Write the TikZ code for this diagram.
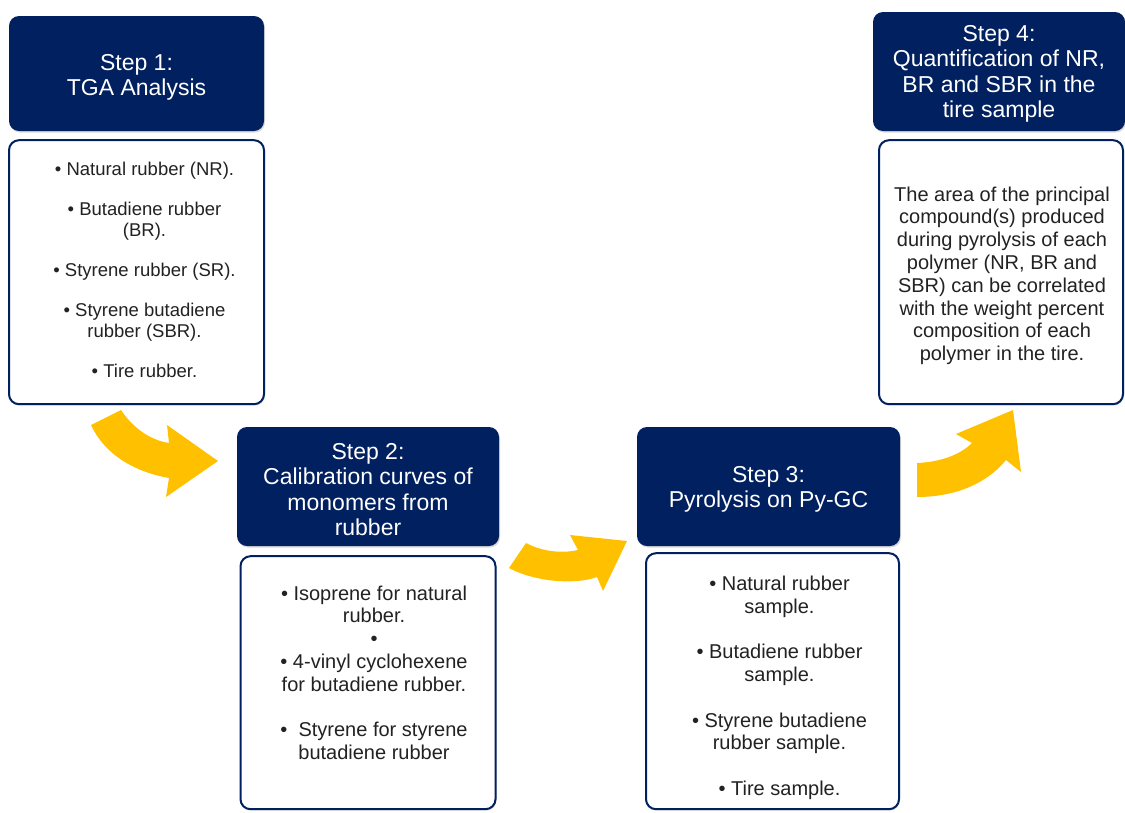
\documentclass[tikz,border=0pt]{standalone}
\usepackage{fontspec}
\setmainfont{Liberation Sans}
\usetikzlibrary{positioning, shadows}
\definecolor{navy}{RGB}{0,32,96}
\definecolor{arrowyellow}{RGB}{255,192,0}
\definecolor{bodytext}{RGB}{34,34,34}
\tikzset{
header/.style={fill=navy, rounded corners=10pt, inner sep=0pt,
  drop shadow={shadow xshift=1pt, shadow yshift=-1.5pt, opacity=0.3}}, % dark title box of each step
header text/.style={text=white, align=center, inner sep=0pt, font=\fontsize{23}{25.3}\selectfont}, % title of a step
panel/.style={draw=navy, line width=2pt, fill=white, rounded corners=10pt, inner sep=0pt,
  drop shadow={shadow xshift=1pt, shadow yshift=-1.5pt, opacity=0.2}}, % white box under a title
panel text/.style={align=center, text=bodytext, inner sep=0pt, font=\fontsize{20}{22.8}\selectfont}, % text inside a white box
bend arrow/.style={fill=arrowyellow, draw=none}, % yellow curved block arrows
}

\begin{document}
\begin{tikzpicture}[x=1pt, y=-1pt]
    \useasboundingbox (0,0) rectangle (1125,812);

    \node[header, minimum width=255pt, minimum height=115pt] (s1h) at (136.5,73.5) {};
    \node[panel, minimum width=255pt, minimum height=264pt, below=8pt of s1h] (s1b) {};
    \node[header, minimum width=262pt, minimum height=119pt] (s2h) at (368,486.5) {};
    \node[panel, minimum width=255pt, minimum height=253pt, below=9pt of s2h] (s2b) {};
    \node[header, minimum width=263pt, minimum height=119pt] (s3h) at (768.5,486.5) {};
    \node[panel, minimum width=253pt, minimum height=256pt, below=6pt of s3h, xshift=4pt] (s3b) {};
    \node[header, minimum width=252pt, minimum height=119pt] (s4h) at (999,71.5) {};
    \node[panel, minimum width=244pt, minimum height=264pt, below=8pt of s4h, xshift=2pt] (s4b) {};

    \node[header text] (s1l) at ([yshift=-4pt] s1h.center) {Step 1:\\ TGA Analysis};
    \node[header text] (s2l) at ([yshift=-3pt] s2h.center) {Step 2:\\ Calibration curves of\\ monomers from\\ rubber};
    \node[header text] (s3l) at ([yshift=-3pt] s3h.center) {Step 3:\\ Pyrolysis on Py-GC};
    \node[header text] (s4l) at ([yshift=-2.5pt] s4h.center) {Step 4:\\ Quantification of NR,\\ BR and SBR in the\\ tire sample};

    \node[panel text, font=\fontsize{18.5}{21}\selectfont] (s1t) at ([xshift=8pt, yshift=2pt] s1b.center)
      {\textbullet\ Natural rubber (NR).\\[19pt] \textbullet\ Butadiene rubber\\ (BR).\\[19pt]
       \textbullet\ Styrene rubber (SR).\\[19pt] \textbullet\ Styrene butadiene\\ rubber (SBR).\\[19pt]
       \textbullet\ Tire rubber.};
    \node[panel text] (s2t) at ([xshift=6pt, yshift=10pt] s2b.center)
      {\textbullet\ Isoprene for natural\\ rubber.\\ \textbullet\\ \textbullet\ 4-vinyl cyclohexene\\
       for butadiene rubber.\\[22.8pt] \textbullet\ \ Styrene for styrene\\ butadiene rubber};
    \node[panel text] (s3t) at ([xshift=7pt, yshift=-6.5pt] s3b.center)
      {\textbullet\ Natural rubber\\ sample.\\[22.8pt] \textbullet\ Butadiene rubber\\ sample.\\[22.8pt]
       \textbullet\ Styrene butadiene\\ rubber sample.\\[22.8pt] \textbullet\ Tire sample.};
    \node[panel text] (s4t) at ([xshift=1pt, yshift=-3.5pt] s4b.center)
      {The area of the principal\\ compound(s) produced\\ during pyrolysis of each\\ polymer (NR, BR and\\
       SBR) can be correlated\\ with the weight percent\\ composition of each\\ polymer in the tire.};

    \fill[bend arrow] (91,425) -- (121,410) .. controls (133,428) and (150,440) .. (169,443)
      -- (167,425) -- (218,461) -- (166,497) -- (169,478) .. controls (135,472) and (105,455) .. cycle;
    \fill[bend arrow] (509,568) -- (526,543) .. controls (545,553) and (565,553) .. (578,550)
      -- (570,535) -- (627,541) -- (603,591) -- (597,577) .. controls (575,585) and (535,582) .. cycle;
    \fill[bend arrow] (917,497) -- (917,463) .. controls (940,462) and (960,455) .. (972,443)
      -- (956,434) -- (1013,410) -- (1021,472) -- (1006,460) .. controls (990,480) and (960,497) .. cycle;
\end{tikzpicture}
\end{document}
